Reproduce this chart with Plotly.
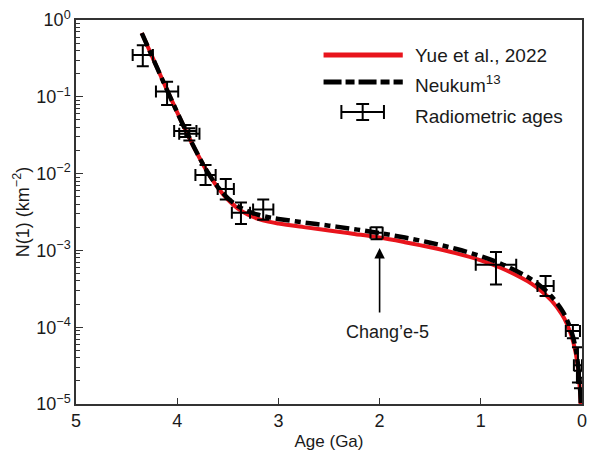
import plotly.graph_objects as go

# ---- data ----
curve_age = [4.35, 4.3, 4.2, 4.1, 4.0, 3.9, 3.8, 3.7, 3.6, 3.5, 3.4, 3.3, 3.2, 3.1, 3.0,
             2.75, 2.5, 2.25, 2.0, 1.75, 1.5, 1.25, 1.0, 0.8, 0.6, 0.5, 0.4, 0.3, 0.2,
             0.15, 0.1, 0.07, 0.05, 0.03, 0.02, 0.012]
neukum_n = [0.676, 0.48, 0.241, 0.122, 0.0628, 0.0330, 0.0181, 0.0105, 0.00674, 0.00479,
            0.00378, 0.00323, 0.00291, 0.00271, 0.00257, 0.00231, 0.00210, 0.00189,
            0.00168, 0.00147, 0.00126, 0.00105, 0.00084, 0.00067, 0.00050, 0.00042,
            0.000335, 0.000251, 0.000168, 0.000126, 8.4e-5, 5.9e-5, 4.2e-5, 2.5e-5,
            1.7e-5, 1.0e-5]
yue_n = [0.676, 0.48, 0.241, 0.122, 0.0628, 0.0330, 0.0180, 0.0104, 0.0066, 0.0046,
         0.0035, 0.00292, 0.00258, 0.00237, 0.00224, 0.00201, 0.00182, 0.00164,
         0.00147, 0.00128, 0.00110, 0.00092, 0.00074, 0.00059, 0.00044, 0.00037,
         0.000295, 0.000221, 0.000148, 0.000111, 7.4e-5, 5.2e-5, 3.7e-5, 2.2e-5,
         1.48e-5, 0.9e-5]

rad_age = [4.34, 4.10, 3.92, 3.88, 3.72, 3.52, 3.37, 3.15, 2.03, 0.85, 0.36, 0.09, 0.04, 0.02]
rad_age_err = [0.10, 0.11, 0.11, 0.10, 0.10, 0.08, 0.09, 0.10, 0.06, 0.20, 0.08, 0.07, 0.04, 0.03]
rad_n = [0.35, 0.117, 0.036, 0.033, 0.0096, 0.0063, 0.0031, 0.0034, 0.0017, 6.5e-4, 3.45e-4,
         8.9e-5, 3.2e-5, 2.2e-5]
rad_n_plus = [0.12, 0.040, 0.007, 0.006, 0.0033, 0.0022, 0.0011, 0.0012, 0.0003, 3.0e-4,
              1.2e-4, 1.8e-5, 2.3e-5, 5e-6]
rad_n_minus = [0.10, 0.039, 0.006, 0.006, 0.0025, 0.0017, 0.0009, 0.0009, 0.0003, 2.9e-4,
               0.9e-4, 1.7e-5, 1.3e-5, 6e-6]

y_tickvals = [1, 0.1, 0.01, 0.001, 1e-4, 1e-5]
y_ticktext = ["10<sup>0</sup>", "10<sup>−1</sup>", "10<sup>−2</sup>", "10<sup>−3</sup>",
              "10<sup>−4</sup>", "10<sup>−5</sup>"]
x_tickvals = [5, 4, 3, 2, 1, 0]

FONT = "Liberation Sans, Arial, sans-serif"
AXC = "#333333"
TXT = "#1a1a1a"

fig = go.Figure()
fig.add_trace(go.Scatter(x=curve_age, y=yue_n, mode="lines", name="Yue et al., 2022",
                         line=dict(color="#e8141c", width=4, shape="spline"),
                         showlegend=False, cliponaxis=True))
fig.add_trace(go.Scatter(x=curve_age, y=neukum_n, mode="lines", name="Neukum13",
                         line=dict(color="black", width=4.5, shape="spline",
                                   dash="14px,5px,6px,5px"),
                         showlegend=False, cliponaxis=True))
fig.add_trace(go.Scatter(x=rad_age, y=rad_n, mode="markers", name="Radiometric ages",
                         marker=dict(size=1, color="black", opacity=0),
                         error_x=dict(type="data", array=rad_age_err, color="black",
                                      thickness=2, width=6),
                         error_y=dict(type="data", array=rad_n_plus, arrayminus=rad_n_minus,
                                      color="black", thickness=2, width=6),
                         showlegend=False))

# plot area geometry (pixels) for the hand-drawn legend
L, R, T, B = 76, 587, 20, 404
W, H = 592, 453


def px(x):
    return (x - L) / (R - L)


def py(y):
    return (B - y) / (B - T)


shapes = [
    dict(type="line", xref="paper", yref="paper", x0=px(326), x1=px(406), y0=py(55), y1=py(55),
         line=dict(color="#e8141c", width=5)),
    dict(type="line", xref="paper", yref="paper", x0=px(326), x1=px(406), y0=py(82), y1=py(82),
         line=dict(color="black", width=5, dash="18px,4px,9px,4px")),
    # error-bar legend symbol
    dict(type="line", xref="paper", yref="paper", x0=px(344), x1=px(387), y0=py(112), y1=py(112),
         line=dict(color="black", width=2)),
    dict(type="line", xref="paper", yref="paper", x0=px(344), x1=px(344), y0=py(105), y1=py(119),
         line=dict(color="black", width=2)),
    dict(type="line", xref="paper", yref="paper", x0=px(387), x1=px(387), y0=py(105), y1=py(119),
         line=dict(color="black", width=2)),
    dict(type="line", xref="paper", yref="paper", x0=px(365.5), x1=px(365.5), y0=py(104), y1=py(120),
         line=dict(color="black", width=2)),
    dict(type="line", xref="paper", yref="paper", x0=px(359), x1=px(372), y0=py(104), y1=py(104),
         line=dict(color="black", width=2)),
    dict(type="line", xref="paper", yref="paper", x0=px(359), x1=px(372), y0=py(120), y1=py(120),
         line=dict(color="black", width=2)),
]

annotations = [
    dict(xref="paper", yref="paper", x=px(416), y=py(55), xanchor="left", yanchor="middle",
         text="Yue et al., 2022", showarrow=False, font=dict(family=FONT, size=19, color=TXT)),
    dict(xref="paper", yref="paper", x=px(416), y=py(84), xanchor="left", yanchor="middle",
         text="Neukum<sup>13</sup>", showarrow=False, font=dict(family=FONT, size=19, color=TXT)),
    dict(xref="paper", yref="paper", x=px(416), y=py(116), xanchor="left", yanchor="middle",
         text="Radiometric ages", showarrow=False, font=dict(family=FONT, size=19, color=TXT)),
    # Chang'e-5 arrow
    dict(x=2, y=-2.97, xref="x", yref="y", text="", showarrow=True, ax=0, ay=66,
         axref="pixel", ayref="pixel", arrowhead=2, arrowsize=1.3, arrowwidth=1.6,
         arrowcolor="black"),
    dict(xref="paper", yref="paper", x=px(391), y=py(332), xanchor="center", yanchor="middle",
         text="Chang’e-5", showarrow=False, font=dict(family=FONT, size=18, color=TXT)),
]

fig.update_layout(
    width=W, height=H,
    margin=dict(l=L, r=W - R, t=T, b=H - B),
    paper_bgcolor="white", plot_bgcolor="white",
    font=dict(family=FONT, size=17, color=TXT),
    shapes=shapes, annotations=annotations,
    showlegend=False,
)
fig.update_xaxes(
    range=[5, 0], tickvals=x_tickvals, ticktext=[str(v) for v in x_tickvals],
    ticks="inside", ticklen=6, tickwidth=1, tickcolor=AXC,
    showline=True, linecolor=AXC, linewidth=1.5, mirror=True,
    showgrid=False, zeroline=False,
    title=dict(text="Age (Ga)", font=dict(family=FONT, size=17), standoff=5),
    tickfont=dict(family=FONT, size=18),
)
fig.update_yaxes(
    type="log", range=[-5, 0], tickvals=y_tickvals, ticktext=y_ticktext,
    ticks="inside", ticklen=7, tickwidth=1, tickcolor=AXC,
    minor=dict(dtick="D1", ticks="inside", ticklen=4, tickwidth=1, tickcolor=AXC, showgrid=False),
    showline=True, linecolor=AXC, linewidth=1.5, mirror=True,
    showgrid=False, zeroline=False,
    title=dict(text="N(1) (km<sup>−2</sup>)", font=dict(family=FONT, size=18), standoff=2),
    tickfont=dict(family=FONT, size=18),
)

fig.write_html("out.html")
